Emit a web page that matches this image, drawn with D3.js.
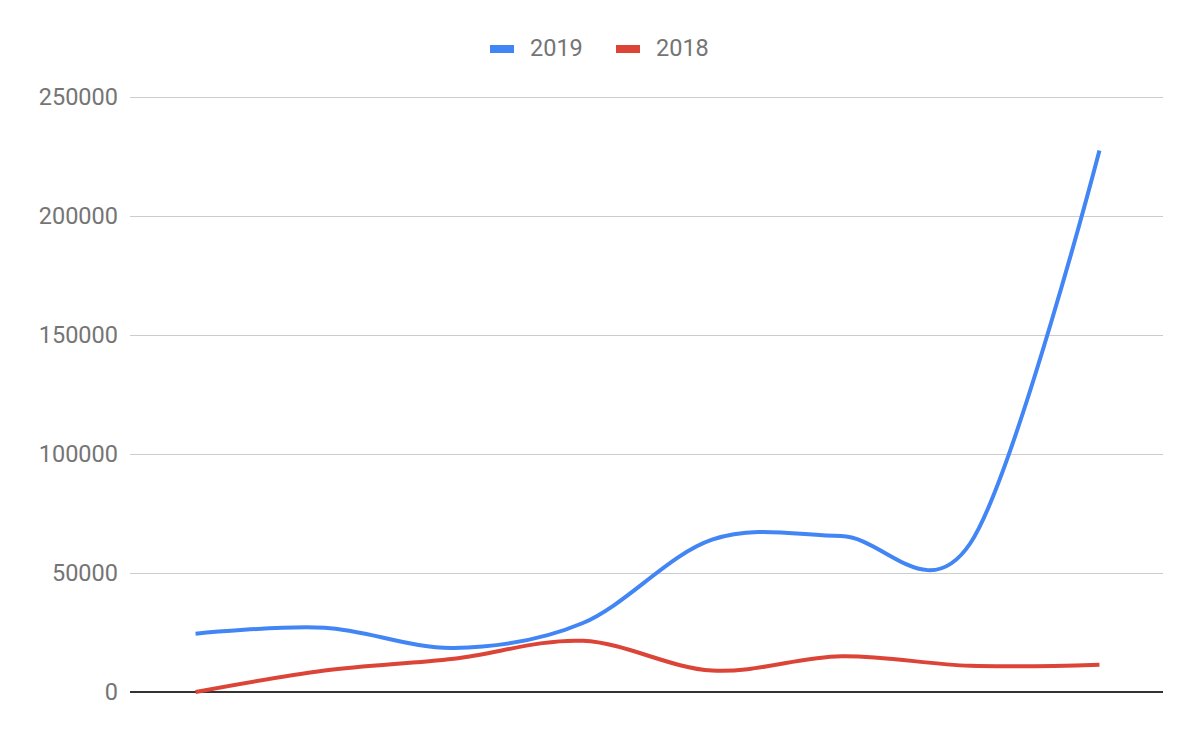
<!DOCTYPE html>
<html>
<meta charset="utf-8">
<title>2019 vs 2018</title>
<style>
body { margin: 0; background: #fff; }
text { font-family: Roboto, sans-serif; }
</style>
<body>
<div id="chart"></div>
<script src="https://d3js.org/d3.v7.min.js"></script>
<script>
// data (x categories have no labels)
var categories = [1, 2, 3, 4, 5, 6, 7, 8];
var values2019 = [24500, 27000, 18500, 29000, 64000, 65500, 62500, 227500];
var values2018 = [0, 9000, 14000, 21500, 9000, 15000, 11000, 11500];
var yTicks = [0, 50000, 100000, 150000, 200000, 250000];
var seriesNames = ["2019", "2018"];
var seriesColors = ["#4285f4", "#db4437"];

var width = 1200, height = 741;
var plotLeft = 130, plotRight = 1163, plotTop = 97, plotBottom = 692;

var svg = d3.select("#chart").append("svg")
  .attr("width", width)
  .attr("height", height);

var x = d3.scalePoint().domain(categories).range([plotLeft + 1, plotRight + 1]).padding(0.5);
var y = d3.scaleLinear().domain([0, 250000]).range([plotBottom, plotTop]);

// gridlines + labels
var yAxis = d3.axisLeft(y)
  .tickValues(yTicks)
  .tickFormat(d3.format("d"))
  .tickSize(-(plotRight - plotLeft))
  .tickPadding(12);
var g = svg.append("g").attr("transform", "translate(" + plotLeft + ",0)").call(yAxis);
g.select(".domain").remove();
g.selectAll(".tick line").attr("stroke", "#cccccc").attr("stroke-width", 1);
g.selectAll(".tick text")
  .attr("fill", "#757575")
  .style("font-size", "23.5px")
  .style("font-family", "Roboto, sans-serif");

// zero baseline
svg.append("line")
  .attr("x1", plotLeft).attr("x2", plotRight)
  .attr("y1", y(0)).attr("y2", y(0))
  .attr("stroke", "#333333")
  .attr("stroke-width", 2);

var line = d3.line()
  .x(function(d, i) { return x(categories[i]); })
  .y(function(d) { return y(d); })
  .curve(d3.curveCardinal.tension(0));

[values2019, values2018].forEach(function(vals, i) {
  svg.append("path")
    .datum(vals)
    .attr("fill", "none")
    .attr("stroke", seriesColors[i])
    .attr("stroke-width", 4)
    .attr("stroke-linejoin", "round")
    .attr("d", line);
});

// legend
var legendX = [490, 616];
seriesNames.forEach(function(name, i) {
  svg.append("rect")
    .attr("x", legendX[i]).attr("y", 45)
    .attr("width", 24).attr("height", 8)
    .attr("fill", seriesColors[i]);
  svg.append("text")
    .attr("x", legendX[i] + 40).attr("y", 56)
    .attr("fill", "#757575")
    .style("font-size", "23.5px")
    .text(name);
});
</script>
</body>
</html>
